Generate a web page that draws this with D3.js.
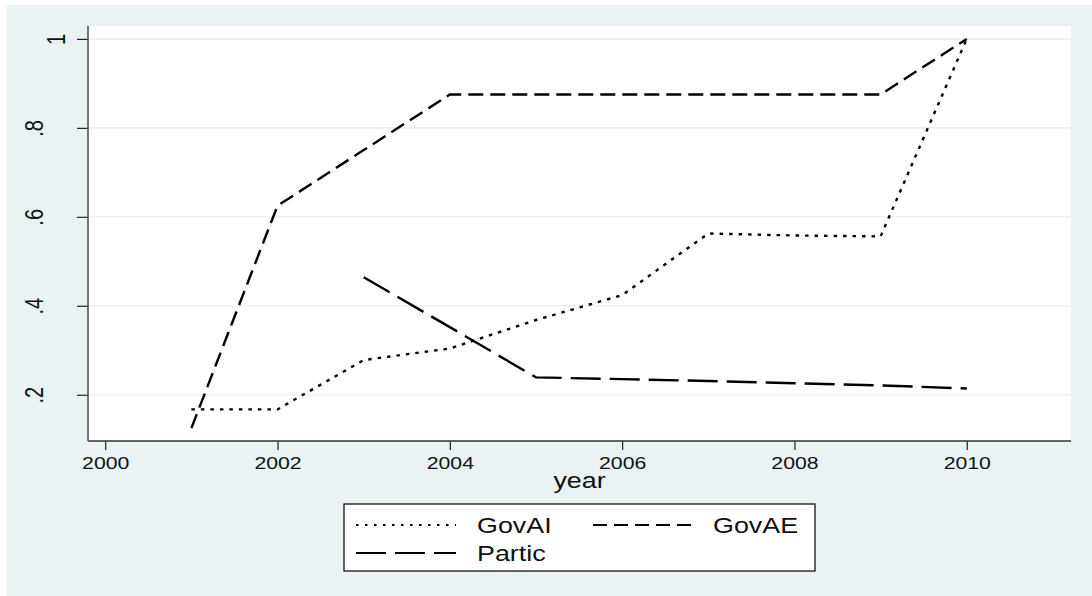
<!DOCTYPE html>
<html>
<head>
<meta charset="utf-8">
<script src="https://cdn.jsdelivr.net/npm/d3@7"></script>
<style>
  html, body { margin: 0; padding: 0; background: #ffffff; }
  svg { display: block; }
  svg text { font-family: "Liberation Sans", Arial, sans-serif; }
</style>
</head>
<body>
<svg id="chart" width="1092" height="596"></svg>
<script>
// Yearly indicator shares
const years = [2001, 2002, 2003, 2004, 2005, 2006, 2007, 2008, 2009, 2010];
const govAI = [0.167, 0.167, 0.278, 0.304, 0.368, 0.424, 0.5625, 0.558, 0.556, 1.0];
const govAE = [0.125, 0.625, 0.75, 0.875, 0.875, 0.875, 0.875, 0.875, 0.875, 1.0];
const partic = [null, null, 0.464, 0.352, 0.239, 0.235, 0.231, 0.226, 0.221, 0.214];

const xTicks = [2000, 2002, 2004, 2006, 2008, 2010];
const yTicks = [0.2, 0.4, 0.6, 0.8, 1.0];
const yTickLabels = [".2", ".4", ".6", ".8", "1"];

const seriesNames = ["GovAI", "GovAE", "Partic"];
const seriesData = [govAI, govAE, partic];
const seriesDash = ["3.5,6", "15,7", "30,9"];
const legendDash = ["2.5,6.5", "14,7", "30,9"];

const svg = d3.select("#chart");
const bg = "#eaf2f3";
const ink = "#111";
const stretch = 1.25; // horizontal text stretch
const fontFamily = '"Liberation Sans", Arial, sans-serif';

// Outer graph region
svg.append("rect").attr("x", 7).attr("y", 5).attr("width", 1085).attr("height", 591).attr("fill", bg);

// Plot region
const plot = { left: 88, right: 1071, top: 26, bottom: 441 };
svg.append("rect")
  .attr("x", plot.left).attr("y", plot.top)
  .attr("width", plot.right - plot.left).attr("height", plot.bottom - plot.top)
  .attr("fill", "#ffffff");

const x = d3.scaleLinear().domain([1999.8, 2011.21]).range([plot.left, plot.right]);
const y = d3.scaleLinear().domain([0.096, 1.029]).range([plot.bottom, plot.top]);

// Grid lines
svg.append("g").selectAll("line").data(yTicks).join("line")
  .attr("x1", plot.left).attr("x2", plot.right)
  .attr("y1", d => y(d)).attr("y2", d => y(d))
  .attr("stroke", bg).attr("stroke-width", 1.6);

// Series lines
const line = d3.line()
  .defined(d => d[1] !== null)
  .x(d => x(d[0])).y(d => y(d[1]));

seriesData.forEach((vals, i) => {
  svg.append("path")
    .datum(years.map((yr, j) => [yr, vals[j]]))
    .attr("d", line)
    .attr("fill", "none")
    .attr("stroke", "#000")
    .attr("stroke-width", 2.4)
    .attr("stroke-dasharray", seriesDash[i]);
});

// X axis
const xAxis = svg.append("g").attr("transform", `translate(0,${plot.bottom})`)
  .call(d3.axisBottom(x).tickValues(xTicks).tickFormat(d3.format("d")).tickSize(9).tickSizeOuter(0))
  .attr("font-family", fontFamily);
xAxis.select(".domain").remove();
xAxis.selectAll(".tick line").attr("stroke", "#222").attr("stroke-width", 1.2);
xAxis.selectAll(".tick text")
  .attr("y", 0).attr("dy", null)
  .attr("font-size", 17).attr("fill", ink)
  .attr("transform", `translate(0,28.3) scale(${stretch},1)`);
svg.append("line")
  .attr("x1", plot.left).attr("x2", plot.right)
  .attr("y1", plot.bottom).attr("y2", plot.bottom)
  .attr("stroke", "#333").attr("stroke-width", 1.5);

// Y axis (labels read bottom to top)
const yAxis = svg.append("g").attr("transform", `translate(${plot.left},0)`)
  .call(d3.axisLeft(y).tickValues(yTicks).tickFormat((d, i) => yTickLabels[i]).tickSize(11).tickSizeOuter(0))
  .attr("font-family", fontFamily);
yAxis.select(".domain").remove();
yAxis.selectAll(".tick line").attr("stroke", "#222").attr("stroke-width", 1.2);
yAxis.selectAll(".tick text")
  .attr("x", 0).attr("dy", null)
  .attr("font-size", 20).attr("fill", ink)
  .attr("text-anchor", "middle")
  .attr("transform", d => `translate(${d === 1 ? -23 : -45},0) scale(${stretch},1) rotate(-90)`);
svg.append("line")
  .attr("x1", plot.left).attr("x2", plot.left)
  .attr("y1", plot.top).attr("y2", plot.bottom)
  .attr("stroke", "#555").attr("stroke-width", 1.6);

// Axis title
svg.append("text")
  .attr("transform", `translate(${(plot.left + plot.right) / 2},488) scale(${stretch},1)`)
  .attr("text-anchor", "middle").attr("font-size", 21.5).attr("fill", ink)
  .text("year");

// Legend
const lg = svg.append("g");
lg.append("rect").attr("x", 344).attr("y", 504).attr("width", 471).attr("height", 67)
  .attr("fill", "#fff").attr("stroke", "#000").attr("stroke-width", 1.2);
const legendPos = [
  { sx: 356, tx: 477, cy: 525 },
  { sx: 593, tx: 713, cy: 525 },
  { sx: 356, tx: 477, cy: 553 }
];
seriesNames.forEach((name, i) => {
  const p = legendPos[i];
  lg.append("line")
    .attr("x1", p.sx).attr("x2", p.sx + 100)
    .attr("y1", p.cy).attr("y2", p.cy)
    .attr("stroke", "#000").attr("stroke-width", 2)
    .attr("stroke-dasharray", legendDash[i]);
  lg.append("text")
    .attr("transform", `translate(${p.tx},${p.cy + 7.5}) scale(${stretch},1)`)
    .attr("font-size", 21.5).attr("fill", ink)
    .text(name);
});
</script>
</body>
</html>
